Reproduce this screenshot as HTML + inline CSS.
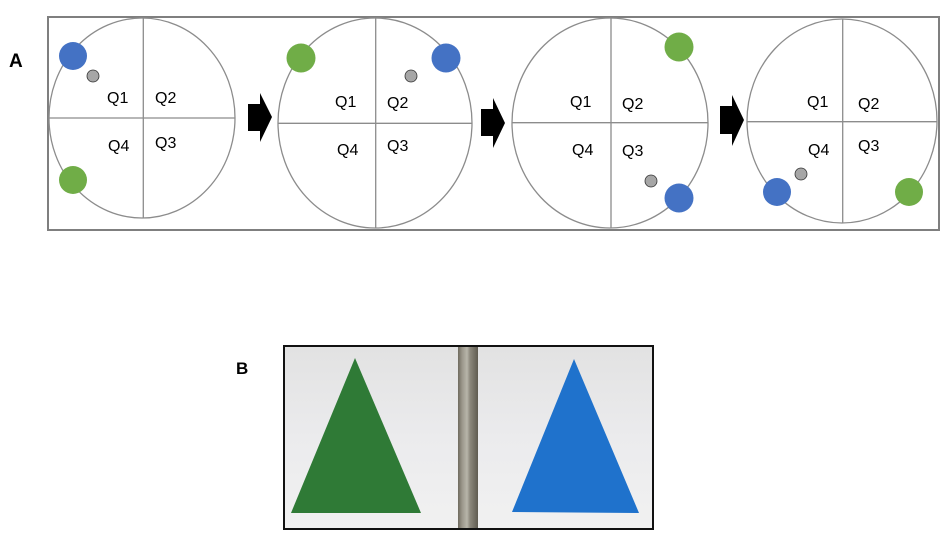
<!DOCTYPE html>
<html><head><meta charset="utf-8"><style>
html,body{margin:0;padding:0;background:#fff;}
svg{display:block;}
text{font-family:"Liberation Sans",sans-serif;}
</style></head><body>
<svg width="950" height="549" viewBox="0 0 950 549" xmlns="http://www.w3.org/2000/svg">
<defs>
<linearGradient id="bg" x1="0" y1="0" x2="0" y2="1">
<stop offset="0" stop-color="#e2e2e2"/><stop offset="0.5" stop-color="#ebebed"/><stop offset="1" stop-color="#f1f1f1"/>
</linearGradient>
<linearGradient id="pole" x1="0" y1="0" x2="1" y2="0">
<stop offset="0" stop-color="#6f6a5e"/><stop offset="0.2" stop-color="#9a968a"/><stop offset="0.45" stop-color="#b8b5aa"/><stop offset="0.6" stop-color="#8c887c"/><stop offset="1" stop-color="#5f5b50"/>
</linearGradient>
</defs>
<text x="9" y="67" font-size="19" font-weight="bold" fill="#000">A</text>
<rect x="48" y="17" width="891" height="213" fill="#fff" stroke="#7f7f7f" stroke-width="2"/>
<g fill="none" stroke="#8c8c8c" stroke-width="1.3">
<ellipse cx="142" cy="118" rx="93" ry="100"/>
<line x1="143.3" y1="18" x2="143.3" y2="218"/><line x1="49" y1="118" x2="235" y2="118"/>
<ellipse cx="375" cy="123" rx="97" ry="105"/>
<line x1="375.7" y1="18" x2="375.7" y2="228"/><line x1="278" y1="123.3" x2="472" y2="123.3"/>
<ellipse cx="610" cy="123" rx="98" ry="105"/>
<line x1="611" y1="18" x2="611" y2="228"/><line x1="512" y1="122.7" x2="708" y2="122.7"/>
<ellipse cx="842" cy="121" rx="95" ry="102"/>
<line x1="842.7" y1="19" x2="842.7" y2="223"/><line x1="747" y1="121.7" x2="937" y2="121.7"/>
</g>
<g fill="#000">
<polygon points="248,104 260,104 260,93 272,117 260,142 260,131 248,131"/>
<polygon points="481,109 493,109 493,98 505,123 493,148 493,136 481,136"/>
<polygon points="720,106 732,106 732,95 744,120 732,146 732,134 720,134"/>
</g>
<g font-size="16" fill="#000">
<text x="107" y="103">Q1</text><text x="155" y="103">Q2</text>
<text x="108" y="151">Q4</text><text x="155" y="148">Q3</text>
<text x="335" y="107">Q1</text><text x="387" y="108">Q2</text>
<text x="337" y="155">Q4</text><text x="387" y="151">Q3</text>
<text x="570" y="107">Q1</text><text x="622" y="109">Q2</text>
<text x="572" y="155">Q4</text><text x="622" y="156">Q3</text>
<text x="807" y="107">Q1</text><text x="858" y="109">Q2</text>
<text x="808" y="155">Q4</text><text x="858" y="151">Q3</text>
</g>
<g>
<circle cx="73" cy="56" r="14" fill="#4472c4"/>
<circle cx="73" cy="180" r="14" fill="#70ad47"/>
<circle cx="301" cy="58" r="14.5" fill="#70ad47"/>
<circle cx="446" cy="58" r="14.5" fill="#4472c4"/>
<circle cx="679" cy="47" r="14.5" fill="#70ad47"/>
<circle cx="679" cy="198" r="14.5" fill="#4472c4"/>
<circle cx="777" cy="192" r="14" fill="#4472c4"/>
<circle cx="909" cy="192" r="14" fill="#70ad47"/>
</g>
<g fill="#a6a6a6" stroke="#333" stroke-width="0.8">
<circle cx="93" cy="76" r="6"/>
<circle cx="411" cy="76" r="6"/>
<circle cx="651" cy="181" r="6"/>
<circle cx="801" cy="174" r="6"/>
</g>
<text x="236" y="374" font-size="17" font-weight="bold" fill="#000">B</text>
<rect x="284" y="346" width="369" height="183" fill="url(#bg)"/>
<rect x="458" y="346" width="20" height="183" fill="url(#pole)"/>
<polygon points="355,358 291,513 421,513" fill="#2f7a36"/>
<polygon points="574,359 512,512 639,513" fill="#1f72cc"/>
<rect x="284" y="346" width="369" height="183" fill="none" stroke="#111" stroke-width="2"/>
</svg>
</body></html>
